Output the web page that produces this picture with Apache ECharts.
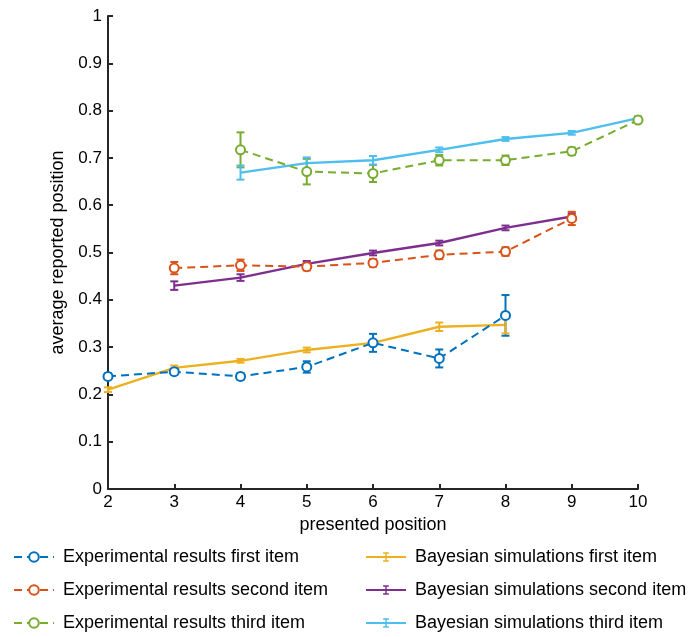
<!DOCTYPE html>
<html>
<head>
<meta charset="utf-8">
<script src="https://cdn.jsdelivr.net/npm/echarts@6/dist/echarts.min.js"></script>
<style>html,body{margin:0;padding:0;background:#fff;}#c{width:693px;height:637px;}</style>
</head>
<body>
<div id="c"></div>
<script>
// ---- data ----
const expFirstX = [2, 3, 4, 5, 6, 7, 8];
const expFirstY = [0.238, 0.248, 0.238, 0.258, 0.309, 0.276, 0.367];
const expFirstErr = [0.006, 0.006, 0.007, 0.012, 0.019, 0.019, 0.043];

const expSecondX = [3, 4, 5, 6, 7, 8, 9];
const expSecondY = [0.467, 0.473, 0.470, 0.478, 0.495, 0.502, 0.572];
const expSecondErr = [0.013, 0.012, 0.008, 0.008, 0.009, 0.009, 0.014];

const expThirdX = [4, 5, 6, 7, 8, 9, 10];
const expThirdY = [0.717, 0.671, 0.667, 0.695, 0.695, 0.714, 0.780];
const expThirdErr = [0.037, 0.027, 0.018, 0.011, 0.010, 0.008, 0.006];

const bayFirstX = [2, 3, 4, 5, 6, 7, 8];
const bayFirstY = [0.210, 0.256, 0.271, 0.294, 0.309, 0.343, 0.347];
const bayFirstErr = [0.005, 0.005, 0.004, 0.005, 0.005, 0.009, 0.018];

const baySecondX = [3, 4, 5, 6, 7, 8, 9];
const baySecondY = [0.430, 0.447, 0.476, 0.499, 0.520, 0.552, 0.576];
const baySecondErr = [0.009, 0.007, 0.006, 0.005, 0.005, 0.005, 0.006];

const bayThirdX = [4, 5, 6, 7, 8, 9, 10];
const bayThirdY = [0.669, 0.689, 0.695, 0.717, 0.740, 0.753, 0.784];
const bayThirdErr = [0.015, 0.012, 0.009, 0.005, 0.004, 0.004, 0.004];

const xTicks = [2, 3, 4, 5, 6, 7, 8, 9, 10];
const seriesNames = [
  'Experimental results first item',
  'Experimental results second item',
  'Experimental results third item',
  'Bayesian simulations first item',
  'Bayesian simulations second item',
  'Bayesian simulations third item'
];

// ---- styling ----
const colors = ['#0072BD', '#D95319', '#77AC30', '#EDB120', '#7E2F8E', '#4DBEEE'];
const FONT = 'Liberation Sans, Arial, Helvetica, sans-serif';
const axisColor = '#262626';
const ibeam = 'path://M0,0L0.01,0L0.01,0.01Z M4,0H16V3H11.5V17H16V20H4V17H8.5V3H4Z M20,20L19.99,20L19.99,19.99Z';

function zip(xs, ys) { return xs.map((x, i) => [x, ys[i]]); }
function zip3(xs, ys, es) { return xs.map((x, i) => [x, ys[i], es[i]]); }

function errSeries(name, color, xs, ys, es) {
  return {
    type: 'custom',
    name: name + ' err',
    data: zip3(xs, ys, es),
    encode: { x: 0, y: 1 },
    z: 3,
    silent: true,
    renderItem: function (params, api) {
      const x = api.value(0), y = api.value(1), e = api.value(2);
      const hi = api.coord([x, y + e]);
      const lo = api.coord([x, y - e]);
      const w = 4;
      const st = { stroke: color, lineWidth: 2, fill: null };
      return {
        type: 'group',
        children: [
          { type: 'line', shape: { x1: hi[0], y1: hi[1], x2: lo[0], y2: lo[1] }, style: st },
          { type: 'line', shape: { x1: hi[0] - w, y1: hi[1], x2: hi[0] + w, y2: hi[1] }, style: st },
          { type: 'line', shape: { x1: lo[0] - w, y1: lo[1], x2: lo[0] + w, y2: lo[1] }, style: st }
        ]
      };
    }
  };
}

function expLine(name, color, xs, ys) {
  return {
    type: 'line', name: name, data: zip(xs, ys),
    symbol: 'emptyCircle', symbolSize: 9, showSymbol: true,
    lineStyle: { color: color, width: 2, type: [8, 5] },
    itemStyle: { color: color, borderWidth: 1.8 },
    z: 4, animation: false
  };
}
function bayLine(name, color, xs, ys) {
  return {
    type: 'line', name: name, data: zip(xs, ys),
    symbol: ibeam, symbolSize: 10, showSymbol: false,
    lineStyle: { color: color, width: 2.4 },
    itemStyle: { color: color },
    z: 2, animation: false
  };
}

const series = [
  expLine(seriesNames[0], colors[0], expFirstX, expFirstY),
  expLine(seriesNames[1], colors[1], expSecondX, expSecondY),
  expLine(seriesNames[2], colors[2], expThirdX, expThirdY),
  bayLine(seriesNames[3], colors[3], bayFirstX, bayFirstY),
  bayLine(seriesNames[4], colors[4], baySecondX, baySecondY),
  bayLine(seriesNames[5], colors[5], bayThirdX, bayThirdY),
  errSeries(seriesNames[0], colors[0], expFirstX, expFirstY, expFirstErr),
  errSeries(seriesNames[1], colors[1], expSecondX, expSecondY, expSecondErr),
  errSeries(seriesNames[2], colors[2], expThirdX, expThirdY, expThirdErr),
  errSeries(seriesNames[3], colors[3], bayFirstX, bayFirstY, bayFirstErr),
  errSeries(seriesNames[4], colors[4], baySecondX, baySecondY, baySecondErr),
  errSeries(seriesNames[5], colors[5], bayThirdX, bayThirdY, bayThirdErr)
];

const legendLefts = [13, 13, 13, 365, 365, 365];
const legendTops = [548, 581, 614, 548, 581, 614];
const legends = seriesNames.map((n, i) => ({
  orient: 'horizontal',
  left: legendLefts[i],
  top: legendTops[i],
  padding: 0,
  itemWidth: 40,
  itemHeight: 12,
  selectedMode: false,
  data: [n],
  textStyle: { fontFamily: FONT, fontSize: 18, color: '#000', padding: [0, 0, 0, 4] }
}));

const chart = echarts.init(document.getElementById('c'), null, { renderer: 'canvas' });
chart.setOption({
  animation: false,
  backgroundColor: '#fff',
  color: colors,
  grid: { left: 108, right: 55, top: 16, bottom: 148, containLabel: false },
  xAxis: {
    type: 'value', min: xTicks[0], max: xTicks[xTicks.length - 1], interval: 1,
    name: 'presented position', nameLocation: 'middle', nameGap: 23,
    nameTextStyle: { fontFamily: FONT, fontSize: 18, color: '#000' },
    axisLine: { show: true, onZero: false, lineStyle: { color: axisColor, width: 2 } },
    axisTick: { show: true, inside: true, length: 5, lineStyle: { color: axisColor, width: 2 } },
    axisLabel: { fontFamily: FONT, fontSize: 17, color: '#000', margin: 5 },
    splitLine: { show: false }
  },
  yAxis: {
    type: 'value', min: 0, max: 1, interval: 0.1,
    name: 'average reported position', nameLocation: 'middle', nameGap: 40,
    nameTextStyle: { fontFamily: FONT, fontSize: 18, color: '#000' },
    axisLine: { show: true, onZero: false, lineStyle: { color: axisColor, width: 2 } },
    axisTick: { show: true, inside: true, length: 5, lineStyle: { color: axisColor, width: 2 } },
    axisLabel: { fontFamily: FONT, fontSize: 17, color: '#000', margin: 6 },
    splitLine: { show: false }
  },
  legend: legends,
  series: series
});
</script>
</body>
</html>
